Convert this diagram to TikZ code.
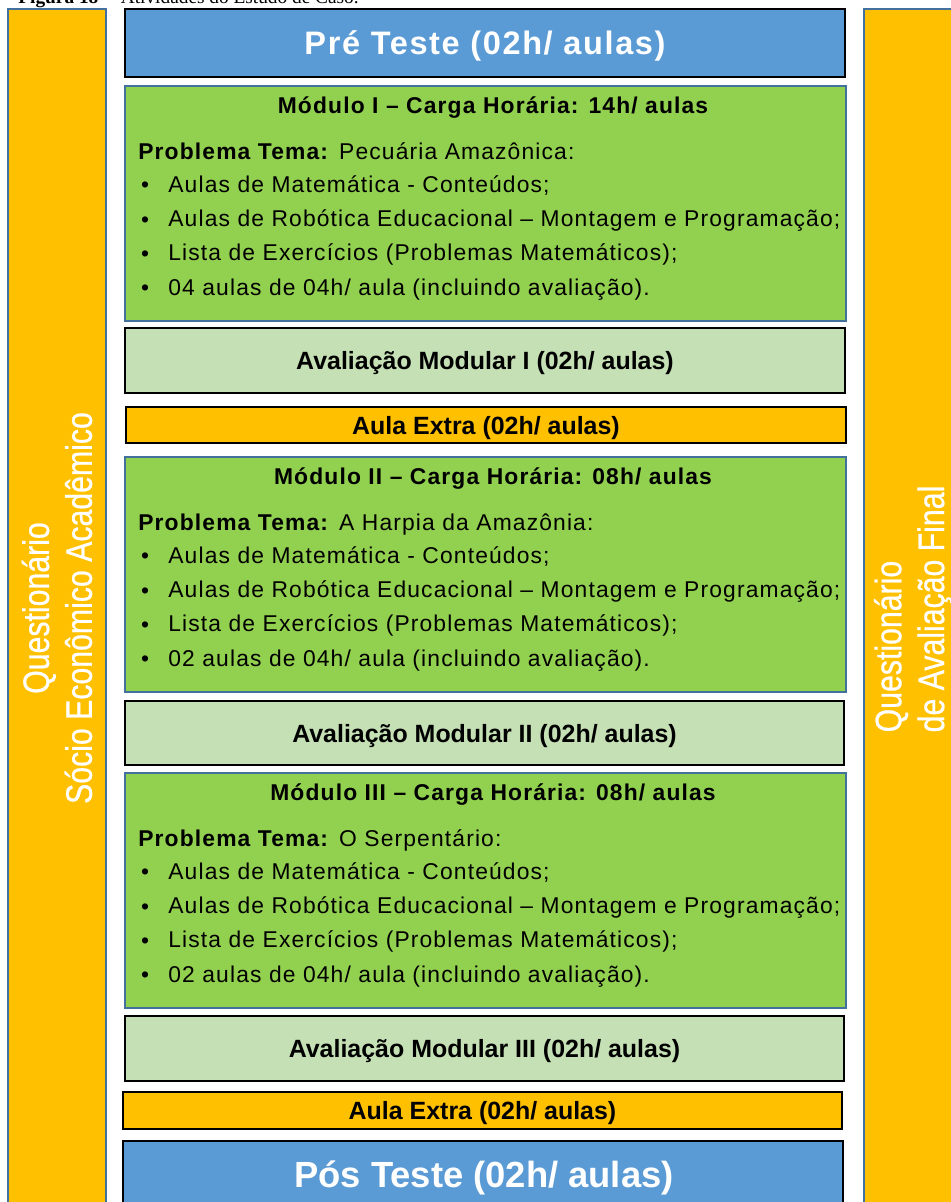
\documentclass[tikz,border=0pt]{standalone}
\usepackage{fontspec}
\setmainfont{Liberation Sans}
\newfontfamily\spacedfont[LetterSpace=5]{Liberation Sans}
\newfontfamily\widefont[LetterSpace=5]{Liberation Sans}
\newfontfamily\narrowfont[FakeStretch=0.82,FakeBold=0.6]{Liberation Sans}
\newfontfamily\captionfont{Liberation Serif}
\definecolor{laranja}{HTML}{FFC000}
\definecolor{azul}{HTML}{5B9BD5}
\definecolor{verde}{HTML}{92D050}
\definecolor{verdeclaro}{HTML}{C5E0B4}
\definecolor{borda}{HTML}{41719C}
\tikzset{
  barra/.style={draw=borda, line width=0.9pt, fill=laranja},
  teste/.style={draw=black, line width=1.1pt, fill=azul},
  modulo/.style={draw=borda, line width=0.9pt, fill=verde},
  avaliacao/.style={draw=black, line width=1.1pt, fill=verdeclaro},
  extra/.style={draw=black, line width=1.1pt, fill=laranja},
  lateral/.style={text=white, rotate=90, font=\narrowfont\fontsize{21}{24.4}\selectfont},
  titulo/.style={font=\spacedfont\bfseries\fontsize{13}{15}\selectfont},
  corpo/.style={anchor=mid west, inner sep=0pt, font=\spacedfont\fontsize{13}{15}\selectfont},
  caixa/.style={yshift=-1.7pt, font=\bfseries\fontsize{14.2}{16}\selectfont}
}
\begin{document}
\begin{tikzpicture}[x=0.02cm, y=-0.02cm]
  \useasboundingbox (0,0) rectangle (950,1202);

  % legenda (cortada no topo)
  \node[anchor=base west, inner sep=0pt] (legenda) at (18,4)
    {\captionfont\fontsize{11}{13}\selectfont\textbf{Figura 18} -- Atividades do Estudo de Caso.};

  % barras laterais
  \draw[barra] (8,9) rectangle (106,1215);
  \node[lateral, align=center] (socio) at (57,608) {Questionário\\Sócio Econômico Acadêmico};
  \draw[barra] (864,9) rectangle (962,1215);
  \node[lateral, align=left] (final) at (913,609) {Questionário\\de Avaliação Final};

  % pre teste
  \draw[teste] (125,9) rectangle (845,77)
    node[midway, yshift=-1.7pt, text=white, font=\widefont\bfseries\fontsize{18.5}{20}\selectfont] (pre) {Pré Teste (02h/ aulas)};

  % modulos
  \foreach \yy/\num/\hrs/\tema/\qt in {86/I/14/Pecuária Amazônica/04, 457/II/08/A Harpia da Amazônia/02, 773/III/08/O Serpentário/02} {
    \draw[modulo] (125,\yy) rectangle (846,\yy+235);
    \node[titulo] (mod\num) at (493,\yy+21.5) {Módulo \num\ – Carga Horária: \hrs h/ aulas};
    \node[corpo] (tema\num) at (138,\yy+69) {\textbf{Problema Tema:} \tema:};
    \foreach \txt [count=\i] in {Aulas de Matemática - Conteúdos;,
        Aulas de Robótica Educacional – Montagem e Programação;,
        Lista de Exercícios (Problemas Matemáticos);,
        \qt\ aulas de 04h/ aula (incluindo avaliação).} {
      \node[font=\fontsize{13}{15}\selectfont] (b\num\i) at (145,\yy+101.5+34.3*\i-34.3) {•};
      \node[corpo] (t\num\i) at (168,\yy+101.5+34.3*\i-34.3) {\txt};
    }
  }

  % avaliacoes e aulas extra
  \draw[avaliacao] (125,328) rectangle (845,393) node[midway, caixa] (av1) {Avaliação Modular I (02h/ aulas)};
  \draw[extra] (126,407) rectangle (846,443) node[midway, caixa] (extra1) {Aula Extra (02h/ aulas)};
  \draw[avaliacao] (125,701) rectangle (844,765) node[midway, caixa] (av2) {Avaliação Modular II (02h/ aulas)};
  \draw[avaliacao] (125,1016) rectangle (844,1081) node[midway, caixa] (av3) {Avaliação Modular III (02h/ aulas)};
  \draw[extra] (123,1092) rectangle (842,1129) node[midway, caixa] (extra2) {Aula Extra (02h/ aulas)};

  % pos teste
  \draw[teste] (123,1141) rectangle (843,1215);
  \node[yshift=-1.7pt, text=white, font=\bfseries\fontsize{20.7}{23}\selectfont] (pos) at (484,1175) {Pós Teste (02h/ aulas)};
\end{tikzpicture}
\end{document}
